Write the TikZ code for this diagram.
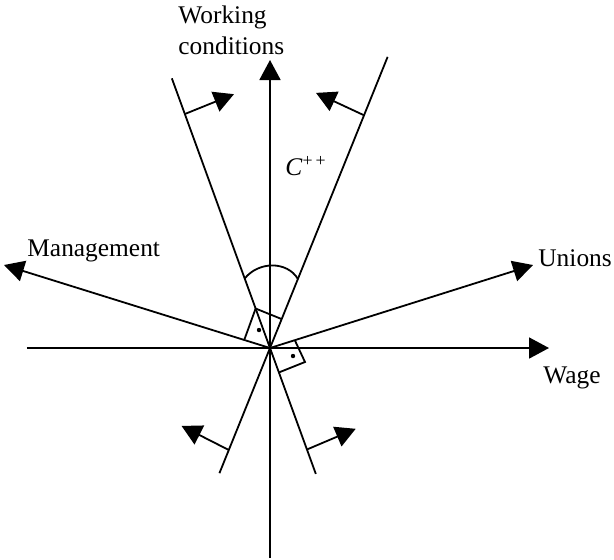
\documentclass[tikz,border=0pt]{standalone}
\usepackage{fontspec}
\setmainfont{Liberation Serif}
\usetikzlibrary{arrows.meta,calc}

\tikzset{
  ray/.style={line width=0.9pt, -{Triangle[length=10pt,width=10.5pt]}},
  bound/.style={line width=0.9pt},
  anglemark/.style={line width=0.9pt},
  lbl/.style={font=\fontsize{12.7}{15.5}\selectfont, inner sep=0pt}
}

\begin{document}
\begin{tikzpicture}[x=0.5pt, y=0.5pt]
    \useasboundingbox (-270,-211) rectangle (344,348);

    % Origin and axes
    \coordinate (O) at (0,0);
    \coordinate (wL) at (-243,0);
    \coordinate (wR) at (279,0);
    \coordinate (cB) at (0,-210);
    \coordinate (cT) at (0,288);
    \draw[ray] (wL) -- (wR);
    \draw[ray] (cB) -- (cT);

    % Management and unions directions
    \coordinate (mgmt) at (-266,83);
    \coordinate (unions) at (263,83);
    \draw[ray] (O) -- (mgmt);
    \draw[ray] (O) -- (unions);

    % Cone boundaries
    \coordinate (l1a) at (110:287);
    \coordinate (l1b) at (-70:134);
    \coordinate (l2a) at (68:314);
    \coordinate (l2b) at (248:135);
    \draw[bound] (l1a) -- (l1b);
    \draw[bound] (l2a) -- (l2b);

    % Normals on the boundaries
    \foreach \ang/\dist/\dir [count=\i] in {110/249/22, 68/251/155, 248/110/153, -70/108/23} {
        \coordinate (n\i) at (\ang:\dist);
        \coordinate (t\i) at ($(n\i)+(\dir:53)$);
        \draw[ray] (n\i) -- (t\i);
    }

    % Angle of the cone
    \coordinate (arcL) at (110:74);
    \coordinate (arcR) at (68:74.5);
    \draw[anglemark] (arcL) .. controls (-11,87) and (17,87) .. (arcR);

    % Right angle marks
    \coordinate (P) at (110:42);
    \coordinate (Q) at ($(O)!(P)!(l2a)$);
    \coordinate (R) at (162.7:27);
    \draw[anglemark] (R) -- (P) -- (Q);
    \coordinate (U) at (17.5:26);
    \coordinate (V) at (35,-14);
    \coordinate (W) at (-70:26);
    \draw[anglemark] (U) -- (V) -- (W);
    \coordinate (dotA) at (-11,18);
    \coordinate (dotB) at (23,-8);
    \fill (dotA) circle (2.2);
    \fill (dotB) circle (2.2);

    % Labels
    \node[lbl, align=left, anchor=north west] (work) at (-92,343) {Working\\conditions};
    \node[lbl, anchor=base west] (mgmtLbl) at (-243,91.5) {Management};
    \node[lbl, anchor=base west] (unionsLbl) at (268,82) {Unions};
    \node[lbl, anchor=base west] (wageLbl) at (273,-35) {Wage};
    \node[lbl, anchor=base west] (cone) at (15,173) {\textit{C}\textsuperscript{+\,+}};
\end{tikzpicture}
\end{document}
